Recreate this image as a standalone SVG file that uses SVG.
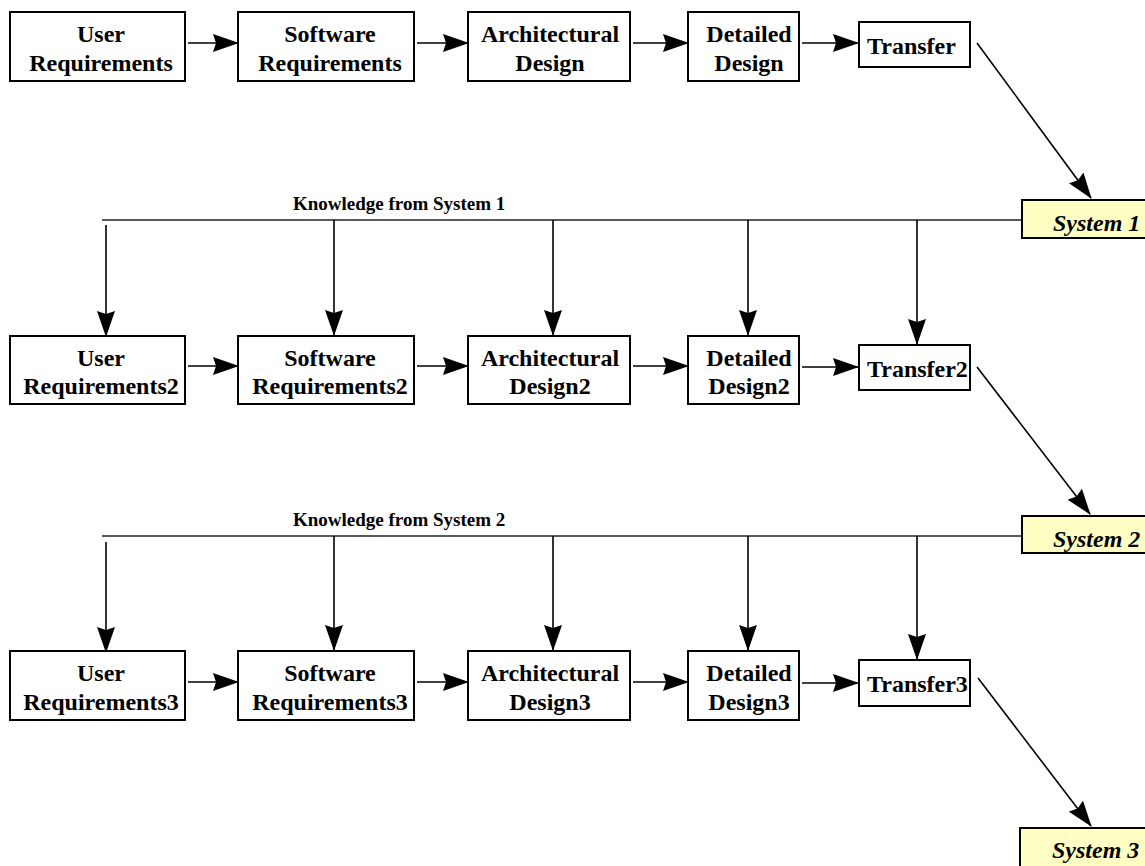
<svg xmlns="http://www.w3.org/2000/svg" width="1145" height="866" viewBox="0 0 1145 866">
<defs>
<marker id="ah" viewBox="0 0 26 18" markerUnits="userSpaceOnUse" markerWidth="26" markerHeight="18" refX="25" refY="9" orient="auto">
<path d="M0,0 L26,9 L0,18 L3,9 z" fill="#000"/>
</marker>
<style>
.box{fill:#fff;stroke:#000;stroke-width:2}
.sys{fill:#FFFFC4;stroke:#000;stroke-width:2}
.t{font-family:"Liberation Serif","Times New Roman",serif;font-weight:bold;font-size:24px;fill:#000}
.c{text-anchor:middle}
.k{font-family:"Liberation Serif","Times New Roman",serif;font-weight:bold;font-size:19px;fill:#000}
.s{font-family:"Liberation Serif","Times New Roman",serif;font-weight:bold;font-style:italic;font-size:24px;fill:#000}
.ar{stroke:#000;stroke-width:1.6;fill:none;marker-end:url(#ah)}
.kl{stroke:#222;stroke-width:1.6;fill:none}
</style>
</defs>
<rect width="1145" height="866" fill="#fff"/>

<g id="connectors">
<line class="ar" x1="188" y1="43" x2="238" y2="43"/>
<line class="ar" x1="417" y1="43" x2="468" y2="43"/>
<line class="ar" x1="633" y1="43" x2="688" y2="43"/>
<line class="ar" x1="802" y1="43" x2="858" y2="43"/>
<line class="ar" x1="977" y1="43" x2="1091" y2="198"/>
<line class="kl" x1="102" y1="220" x2="1022" y2="220"/>
<line class="ar" x1="106" y1="225" x2="106" y2="336"/>
<line class="ar" x1="334" y1="220" x2="334" y2="335"/>
<line class="ar" x1="553" y1="220" x2="553" y2="335"/>
<line class="ar" x1="748" y1="220" x2="748" y2="335"/>
<line class="ar" x1="917" y1="220" x2="917" y2="344"/>
<line class="ar" x1="188" y1="366" x2="238" y2="366"/>
<line class="ar" x1="417" y1="366" x2="468" y2="366"/>
<line class="ar" x1="633" y1="366" x2="688" y2="366"/>
<line class="ar" x1="802" y1="367" x2="858" y2="367"/>
<line class="ar" x1="977" y1="367" x2="1090" y2="514"/>
<line class="kl" x1="102" y1="536" x2="1022" y2="536"/>
<line class="ar" x1="106" y1="542" x2="106" y2="652"/>
<line class="ar" x1="334" y1="536" x2="334" y2="650"/>
<line class="ar" x1="553" y1="536" x2="553" y2="650"/>
<line class="ar" x1="748" y1="536" x2="748" y2="650"/>
<line class="ar" x1="917" y1="536" x2="917" y2="659"/>
<line class="ar" x1="188" y1="682" x2="238" y2="682"/>
<line class="ar" x1="417" y1="682" x2="468" y2="682"/>
<line class="ar" x1="633" y1="682" x2="688" y2="682"/>
<line class="ar" x1="802" y1="683" x2="858" y2="683"/>
<line class="ar" x1="978" y1="678" x2="1091" y2="826"/>
</g>

<g id="labels">
<text class="k" x="293" y="210">Knowledge from System 1</text>
<text class="k" x="293" y="526">Knowledge from System 2</text>
</g>

<g id="user-req"><rect class="box" x="10" y="12" width="175" height="69"/><text class="t c" x="101" y="42">User</text><text class="t c" x="101" y="71">Requirements</text></g>
<g id="sw-req"><rect class="box" x="238" y="12" width="176" height="69"/><text class="t c" x="330" y="42">Software</text><text class="t c" x="330" y="71">Requirements</text></g>
<g id="arch"><rect class="box" x="468" y="12" width="162" height="69"/><text class="t c" x="550" y="42">Architectural</text><text class="t c" x="550" y="71">Design</text></g>
<g id="detailed"><rect class="box" x="688" y="12" width="111" height="69"/><text class="t c" x="749" y="42">Detailed</text><text class="t c" x="749" y="71">Design</text></g>
<g id="transfer"><rect class="box" x="859" y="22" width="111" height="45"/><text class="t" x="867" y="54">Transfer</text></g>
<g id="system1"><rect class="sys" x="1022" y="200" width="130" height="38"/><text class="s" x="1053" y="231">System 1</text></g>

<g id="user-req2"><rect class="box" x="10" y="336" width="175" height="68"/><text class="t c" x="101" y="366">User</text><text class="t c" x="101" y="394">Requirements2</text></g>
<g id="sw-req2"><rect class="box" x="238" y="336" width="176" height="68"/><text class="t c" x="330" y="366">Software</text><text class="t c" x="330" y="394">Requirements2</text></g>
<g id="arch2"><rect class="box" x="468" y="336" width="162" height="68"/><text class="t c" x="550" y="366">Architectural</text><text class="t c" x="550" y="394">Design2</text></g>
<g id="detailed2"><rect class="box" x="688" y="336" width="111" height="68"/><text class="t c" x="749" y="366">Detailed</text><text class="t c" x="749" y="394">Design2</text></g>
<g id="transfer2"><rect class="box" x="859" y="345" width="111" height="45"/><text class="t" x="867" y="377">Transfer2</text></g>
<g id="system2"><rect class="sys" x="1022" y="516" width="130" height="37"/><text class="s" x="1053" y="547">System 2</text></g>

<g id="user-req3"><rect class="box" x="10" y="651" width="175" height="69"/><text class="t c" x="101" y="681">User</text><text class="t c" x="101" y="710">Requirements3</text></g>
<g id="sw-req3"><rect class="box" x="238" y="651" width="176" height="69"/><text class="t c" x="330" y="681">Software</text><text class="t c" x="330" y="710">Requirements3</text></g>
<g id="arch3"><rect class="box" x="468" y="651" width="162" height="69"/><text class="t c" x="550" y="681">Architectural</text><text class="t c" x="550" y="710">Design3</text></g>
<g id="detailed3"><rect class="box" x="688" y="651" width="111" height="69"/><text class="t c" x="749" y="681">Detailed</text><text class="t c" x="749" y="710">Design3</text></g>
<g id="transfer3"><rect class="box" x="859" y="660" width="111" height="46"/><text class="t" x="867" y="692">Transfer3</text></g>
<g id="system3"><rect class="sys" x="1020" y="828" width="132" height="40"/><text class="s" x="1052" y="858">System 3</text></g>
</svg>
